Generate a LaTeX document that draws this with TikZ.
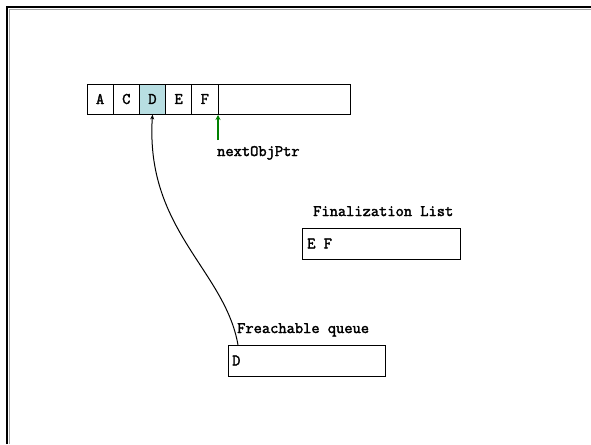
\documentclass[tikz,border=0pt]{standalone}
\usepackage{fontspec}
\newfontfamily\courbold{Latin Modern Mono}[FakeBold=2.2]
\usetikzlibrary{arrows.meta}
\definecolor{cellblue}{RGB}{184,222,226}
\definecolor{ptrgreen}{RGB}{0,128,0}
\tikzset{
  lbl/.style={font=\fontsize{16}{18}\selectfont\courbold, inner sep=0pt},
  cellbox/.style={draw=black, line width=0.8pt},
  listbox/.style={draw=black, line width=0.8pt, fill=white},
}
\begin{document}
\begin{tikzpicture}[x=1pt,y=-1pt]
\useasboundingbox (0,0) rectangle (591,444);
\fill[white] (0,0) rectangle (591,444);
% frame (top and left edges)
\draw[gray!70, line width=1.5pt] (9.5,444) -- (9.5,9.5) -- (591,9.5);
\draw[black, line width=2.6pt] (7,444) -- (7,7) -- (591,7);
% array
\fill[cellblue] (139.4,84) rectangle (165.6,114);
\draw[cellbox] (87,84) rectangle (350,114);
\foreach \xx in {113.2,139.4,165.6,191.8,218} \draw[cellbox] (\xx,84) -- (\xx,114);
\node[lbl] (cA) at (100.1,99) {A};
\node[lbl] (cC) at (126.3,99) {C};
\node[lbl] (cD) at (152.5,99) {D};
\node[lbl] (cE) at (178.7,99) {E};
\node[lbl] (cF) at (204.9,99) {F};
\coordinate (Dbot) at (152.5,114.5);
\coordinate (Fend) at (218,115);
% next pointer
\coordinate (ptrtail) at (218,140);
\draw[ptrgreen, line width=1.6pt, -{Stealth[length=5pt,width=5pt]}] (ptrtail) -- (Fend);
\node[lbl, anchor=base west] (nop) at (217,156) {nextObjPtr};
% finalization list
\node[lbl, anchor=base west] (fltitle) at (313,216) {Finalization List};
\node[listbox, minimum width=158pt, minimum height=31pt, anchor=north west] (fl) at (302,228) {};
\node[lbl, anchor=west] (flt) at (307,243.5) {E F};
% freachable queue
\node[lbl, anchor=base west] (fqtitle) at (237,333) {Freachable queue};
\node[listbox, minimum width=157pt, minimum height=31pt, anchor=north west] (fq) at (228,345) {};
\node[lbl, anchor=west] (fqt) at (232,360.5) {D};
\coordinate (fqstart) at (238,345);
\draw[black, line width=1pt, -{Stealth[length=5pt,width=4pt]}] (fqstart) .. controls (225,270) and (145,230) .. (Dbot);
\end{tikzpicture}
\end{document}
